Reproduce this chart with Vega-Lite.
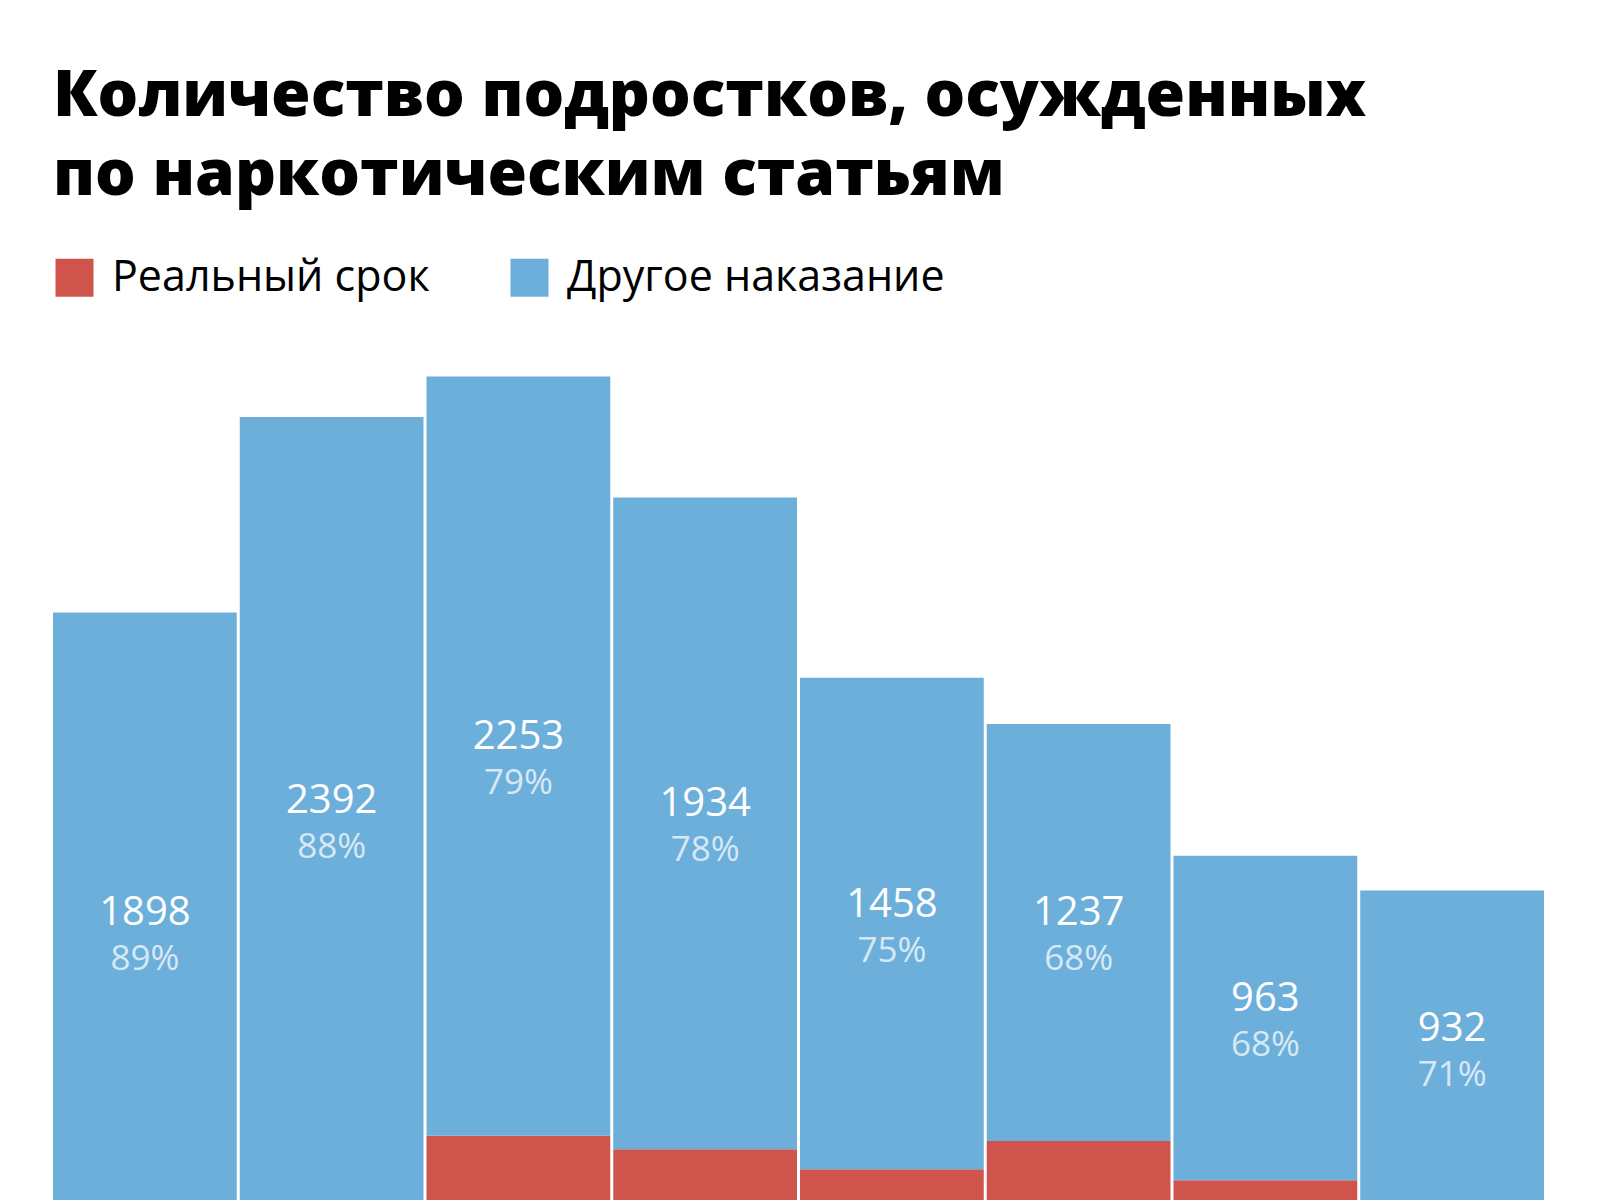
{
  "$schema": "https://vega.github.io/schema/vega-lite/v6.json",
  "width": 1491,
  "height": 1011,
  "autosize": {"type": "none"},
  "padding": {"left": 53, "top": 322, "right": 56, "bottom": 0},
  "background": "white",
  "title": {
    "text": ["Количество подростков, осужденных", "по наркотическим статьям"],
    "anchor": "start",
    "frame": "group",
    "font": "Open Sans",
    "fontSize": 64,
    "fontWeight": 800,
    "lineHeight": 79,
    "color": "#000000",
    "offset": 48
  },
  "data": {
    "values": [
      {"year": "1", "type": "Реальный срок", "value": 240, "share": 0.11},
      {"year": "1", "type": "Другое наказание", "value": 1898, "share": 0.89},
      {"year": "2", "type": "Реальный срок", "value": 326, "share": 0.12},
      {"year": "2", "type": "Другое наказание", "value": 2392, "share": 0.88},
      {"year": "3", "type": "Реальный срок", "value": 585, "share": 0.21},
      {"year": "3", "type": "Другое наказание", "value": 2253, "share": 0.79},
      {"year": "4", "type": "Реальный срок", "value": 545, "share": 0.22},
      {"year": "4", "type": "Другое наказание", "value": 1934, "share": 0.78},
      {"year": "5", "type": "Реальный срок", "value": 486, "share": 0.25},
      {"year": "5", "type": "Другое наказание", "value": 1458, "share": 0.75},
      {"year": "6", "type": "Реальный срок", "value": 570, "share": 0.32},
      {"year": "6", "type": "Другое наказание", "value": 1237, "share": 0.68},
      {"year": "7", "type": "Реальный срок", "value": 453, "share": 0.32},
      {"year": "7", "type": "Другое наказание", "value": 963, "share": 0.68},
      {"year": "8", "type": "Реальный срок", "value": 381, "share": 0.29},
      {"year": "8", "type": "Другое наказание", "value": 932, "share": 0.71}
    ]
  },
  "transform": [
    {"stack": "value", "groupby": ["year"], "sort": [{"field": "type", "order": "descending"}], "as": ["v0", "v1"]},
    {"calculate": "(datum.v0 + datum.v1) / 2", "as": "mid"}
  ],
  "encoding": {
    "x": {"field": "year", "type": "nominal", "axis": null, "scale": {"paddingInner": 0.016, "paddingOuter": 0}}
  },
  "layer": [
    {
      "mark": {"type": "bar"},
      "encoding": {
        "y": {"field": "v0", "type": "quantitative", "scale": {"domain": [0, 3000]}, "axis": null},
        "y2": {"field": "v1"},
        "color": {
          "field": "type",
          "type": "nominal",
          "scale": {"domain": ["Реальный срок", "Другое наказание"], "range": ["#CE544C", "#6CAFDB"]},
          "legend": {
            "title": null,
            "orient": "top",
            "direction": "horizontal",
            "offset": 22,
            "symbolType": "square",
            "symbolSize": 1444,
            "symbolStrokeWidth": 0,
            "symbolOpacity": 1,
            "labelFont": "Open Sans",
            "labelFontSize": 43,
            "labelColor": "#000000",
            "labelOffset": 16,
            "columnPadding": 78,
            "labelLimit": 600
          }
        }
      }
    },
    {
      "transform": [{"filter": "datum.type == 'Другое наказание'"}],
      "mark": {"type": "text", "font": "Open Sans", "fontSize": 40, "color": "#ffffff", "baseline": "middle", "dy": -19},
      "encoding": {
        "y": {"field": "mid", "type": "quantitative"},
        "text": {"field": "value", "type": "quantitative", "format": "d"}
      }
    },
    {
      "transform": [{"filter": "datum.type == 'Другое наказание'"}],
      "mark": {"type": "text", "font": "Open Sans", "fontSize": 35, "color": "#ffffff", "opacity": 0.72, "baseline": "middle", "dy": 27},
      "encoding": {
        "y": {"field": "mid", "type": "quantitative"},
        "text": {"field": "share", "type": "quantitative", "format": ".0%"}
      }
    }
  ],
  "config": {"view": {"stroke": null}}
}
